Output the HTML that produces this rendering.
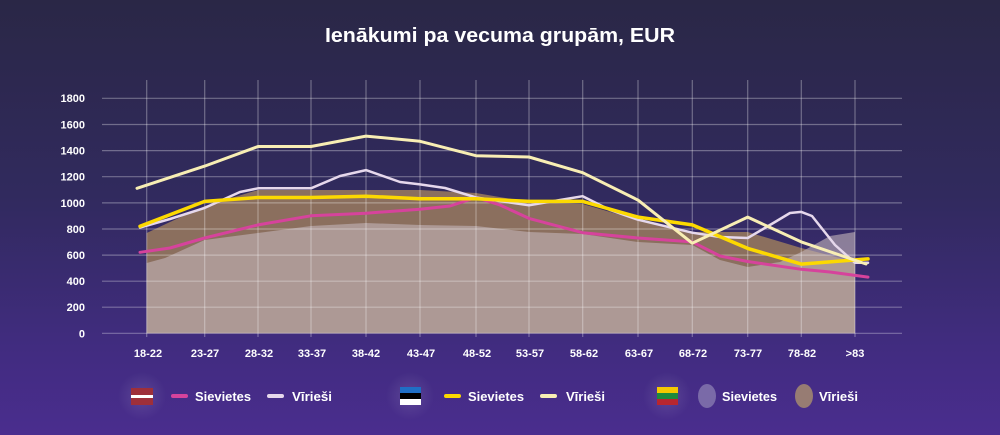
<!DOCTYPE html>
<html><head><meta charset="utf-8"><style>
html,body{margin:0;padding:0;}
body{width:1000px;height:435px;overflow:hidden;background:linear-gradient(180deg,#2a2746 0%,#312a5e 45%,#412c80 80%,#4a2d8e 100%);font-family:"Liberation Sans",sans-serif;}
</style></head><body>
<svg width="1000" height="435" xmlns="http://www.w3.org/2000/svg" style="position:absolute;left:0;top:0">
<defs>
<radialGradient id="glow" cx="50%" cy="50%" r="50%"><stop offset="0" stop-color="#ffffff" stop-opacity="0.12"/><stop offset="1" stop-color="#ffffff" stop-opacity="0"/></radialGradient>
</defs>
<text x="500" y="42" text-anchor="middle" fill="#fff" font-size="20" font-weight="bold" textLength="350" lengthAdjust="spacingAndGlyphs">Ienākumi pa vecuma grupām, EUR</text>
<polygon fill="#8b6f5e" points="146.7,333.3 146.7,233 170,222 204.7,206 258,190 311,190 366,190 420,190 476,193 529,202 582.7,204 638,220 692.3,232 747.7,232 801.3,248 855,262 855,333.3"/>
<polygon fill="rgba(196,182,186,0.6)" points="146.7,333.3 146.7,263 165,258 204.7,240 258,233 311,226 366,223 420,225 476,226 529,232 582.7,234 638,242 692.3,245 720,260 747.7,267 780,262 801.3,252 830,236 855,232 855,333.3"/>
<g stroke="rgba(255,255,255,0.32)" stroke-width="1.2">
<line x1="102" x2="902" y1="98.3" y2="98.3"/><line x1="102" x2="902" y1="124.5" y2="124.5"/><line x1="102" x2="902" y1="150.6" y2="150.6"/><line x1="102" x2="902" y1="176.7" y2="176.7"/><line x1="102" x2="902" y1="202.9" y2="202.9"/><line x1="102" x2="902" y1="229" y2="229"/><line x1="102" x2="902" y1="255.1" y2="255.1"/><line x1="102" x2="902" y1="281.2" y2="281.2"/><line x1="102" x2="902" y1="307.2" y2="307.2"/><line x1="102" x2="902" y1="333.3" y2="333.3"/>
<line x1="146.7" x2="146.7" y1="80" y2="337"/><line x1="204.7" x2="204.7" y1="80" y2="337"/><line x1="258" x2="258" y1="80" y2="337"/><line x1="311" x2="311" y1="80" y2="337"/><line x1="366" x2="366" y1="80" y2="337"/><line x1="420" x2="420" y1="80" y2="337"/><line x1="476" x2="476" y1="80" y2="337"/><line x1="529" x2="529" y1="80" y2="337"/><line x1="582.7" x2="582.7" y1="80" y2="337"/><line x1="638" x2="638" y1="80" y2="337"/><line x1="692.3" x2="692.3" y1="80" y2="337"/><line x1="747.7" x2="747.7" y1="80" y2="337"/><line x1="801.3" x2="801.3" y1="80" y2="337"/><line x1="855" x2="855" y1="80" y2="337"/>
</g>
<g fill="none" stroke-linejoin="round" stroke-linecap="round">
<polyline stroke="#d6439c" stroke-width="3" points="140,252.3 170,248 204.7,238 258,224.9 311,215.8 366,213.2 420,209.2 450,206 476,197.5 500,205 529,218.4 582.7,232.7 638,238 692.3,241.9 720,256 747.7,261.5 801.3,269.3 830,272 868,277.1"/>
<polyline stroke="#e6d8ec" stroke-width="2.5" points="140,227.5 170,219 204.7,207.9 240,192 258,188.3 311,188.3 340,176 366,170.1 400,182 420,184.4 445,188 476,197.5 529,205.3 560,200 582.7,196.2 610,210 638,219.7 692.3,232.7 720,237 747.7,238 775,222 790,213 801.3,211.9 812,216 835,245 855,262.8 868,262.8"/>
<polyline stroke="#fcd900" stroke-width="3.5" points="140,226.2 204.7,201.4 258,197.5 311,197.5 366,196.2 420,198.8 476,198.8 529,201.4 582.7,201.4 638,217.1 692.3,224.9 747.7,248.4 801.3,264.1 868,258.9"/>
<polyline stroke="#f8eeb4" stroke-width="3" points="137,188.3 204.7,166.1 258,146.5 311,146.5 366,136.1 420,141.3 476,155.7 529,157 582.7,172.7 638,200.1 692.3,243.2 747.7,217.1 801.3,241.9 866,264"/>
</g>
<g fill="#fff" font-size="11" font-weight="bold" text-anchor="end">
<text x="85" y="102">1800</text><text x="85" y="128.5">1600</text><text x="85" y="154.6">1400</text><text x="85" y="180.7">1200</text><text x="85" y="206.9">1000</text><text x="85" y="233">800</text><text x="85" y="259.1">600</text><text x="85" y="285.2">400</text><text x="85" y="311.2">200</text><text x="85" y="337.3">0</text>
</g>
<g fill="#fff" font-size="11" font-weight="bold" text-anchor="middle">
<text x="148" y="357">18-22</text><text x="205" y="357">23-27</text><text x="259" y="357">28-32</text><text x="312" y="357">33-37</text><text x="366" y="357">38-42</text><text x="421" y="357">43-47</text><text x="477" y="357">48-52</text><text x="530" y="357">53-57</text><text x="584" y="357">58-62</text><text x="639" y="357">63-67</text><text x="693" y="357">68-72</text><text x="748" y="357">73-77</text><text x="802" y="357">78-82</text><text x="855" y="357">&gt;83</text>
</g>
<circle cx="142" cy="396" r="24" fill="url(#glow)"/>
<circle cx="410" cy="396" r="24" fill="url(#glow)"/>
<circle cx="667" cy="396" r="24" fill="url(#glow)"/>
<rect x="131" y="388" width="22" height="7" fill="#9e2f3a"/><rect x="131" y="395" width="22" height="3" fill="#fff"/><rect x="131" y="398" width="22" height="7" fill="#9e2f3a"/>
<rect x="400" y="387" width="21" height="6" fill="#1f6fc5"/><rect x="400" y="393" width="21" height="6" fill="#000"/><rect x="400" y="399" width="21" height="6" fill="#fff"/>
<rect x="657" y="387" width="21" height="6" fill="#f5c800"/><rect x="657" y="393" width="21" height="6" fill="#1e8a3c"/><rect x="657" y="399" width="21" height="6" fill="#b8262f"/>
<rect x="171" y="394" width="17" height="4" rx="2" fill="#d6439c"/>
<rect x="267" y="394" width="17" height="4" rx="2" fill="#e6d8ec"/>
<rect x="444" y="394" width="17" height="4" rx="2" fill="#fcd900"/>
<rect x="540" y="394" width="17" height="4" rx="2" fill="#f8eeb4"/>
<ellipse cx="707" cy="396" rx="9" ry="12" fill="#7a6aa8"/>
<ellipse cx="804" cy="396" rx="9" ry="12" fill="#977c73"/>
<g fill="#fff" font-size="13" font-weight="bold">
<text x="195" y="401" textLength="56" lengthAdjust="spacingAndGlyphs">Sievietes</text><text x="292" y="401" textLength="40" lengthAdjust="spacingAndGlyphs">Vīrieši</text>
<text x="468" y="401" textLength="56" lengthAdjust="spacingAndGlyphs">Sievietes</text><text x="566" y="401" textLength="39" lengthAdjust="spacingAndGlyphs">Vīrieši</text>
<text x="722" y="401" textLength="55" lengthAdjust="spacingAndGlyphs">Sievietes</text><text x="819" y="401" textLength="39" lengthAdjust="spacingAndGlyphs">Vīrieši</text>
</g>
</svg>
</body></html>
